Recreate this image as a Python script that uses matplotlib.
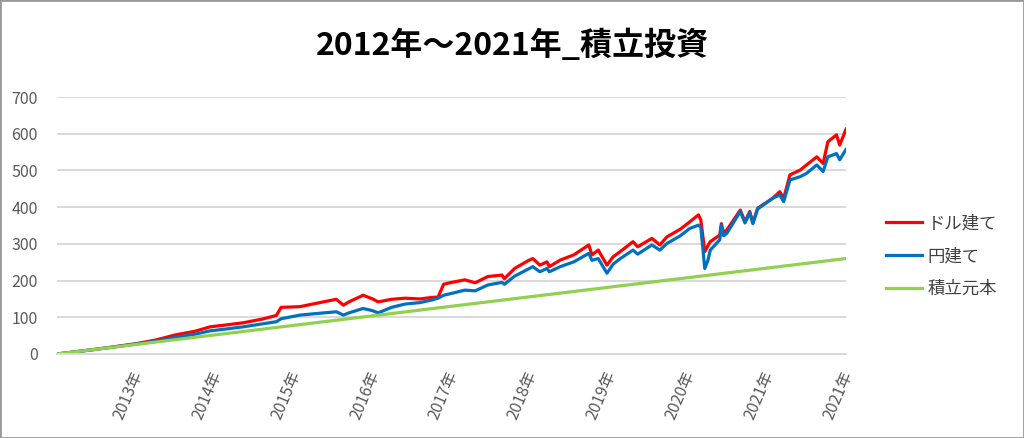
import matplotlib
matplotlib.use("Agg")
import matplotlib.pyplot as plt
from matplotlib.patches import Rectangle
from matplotlib.transforms import ScaledTranslation

plt.rcParams['font.family'] = ['Noto Sans CJK JP', 'DejaVu Sans']

# ---- data (years elapsed since Jan 2012) ----
t_years = [0.0, 0.5, 1.0, 1.25, 1.5, 1.75, 1.94, 2.1, 2.36, 2.6, 2.78, 2.84, 3.08, 3.33,
           3.54, 3.63, 3.7, 3.88, 4.0, 4.07, 4.24, 4.41, 4.6, 4.75, 4.83, 4.9, 5.0, 5.17,
           5.3, 5.46, 5.64, 5.67, 5.8, 5.97, 6.03, 6.12, 6.21, 6.24, 6.38, 6.55, 6.74,
           6.78, 6.86, 6.97, 7.05, 7.14, 7.30, 7.36, 7.54, 7.64, 7.73, 7.90, 8.02, 8.13,
           8.16, 8.21, 8.25, 8.28, 8.40, 8.42, 8.45, 8.49, 8.66, 8.72, 8.78, 8.82, 8.88,
           9.07, 9.16, 9.21, 9.29, 9.42, 9.50, 9.63, 9.71, 9.77, 9.88, 9.92, 10.0]
usd_based = [0, 13, 28, 38, 52, 62, 74, 78, 85, 95, 105, 127, 129, 140,
             149, 133, 142, 160, 150, 142, 149, 152, 150, 154, 155, 190, 195, 202,
             194, 211, 215, 205, 233, 254, 260, 242, 251, 238, 256, 270, 297,
             270, 283, 242, 265, 279, 306, 292, 315, 297, 319, 340, 360, 379,
             365, 279, 295, 306, 324, 355, 330, 338, 392, 360, 388, 357, 397,
             424, 442, 424, 488, 501, 515, 537, 519, 578, 597, 569, 612]
jpy_based = [0, 13, 27, 35, 45, 54, 63, 67, 74, 82, 88, 96, 106, 111,
             115, 106, 112, 124, 118, 112, 127, 136, 140, 147, 152, 160, 165, 174,
             172, 188, 195, 190, 212, 231, 238, 224, 233, 224, 238, 251, 274,
             255, 260, 220, 245, 260, 283, 272, 297, 283, 301, 322, 342, 351,
             345, 233, 255, 283, 311, 350, 322, 329, 388, 357, 385, 355, 395,
             424, 433, 415, 474, 483, 492, 515, 497, 537, 546, 529, 557]
principal_t = [0.0, 10.0]
principal = [0, 260]

tick_pos = [1, 2, 3, 4, 5, 6, 7, 8, 9, 10]
tick_labels = ['2013年', '2014年', '2015年', '2016年', '2017年', '2018年',
               '2019年', '2020年', '2021年', '2021年']
series_names = ['ドル建て', '円建て', '積立元本']

fig = plt.figure(figsize=(10.24, 4.38), dpi=100)
ax = fig.add_axes([57/1024, (438-354)/438, (846-57)/1024, (354-97)/438])

ax.plot(t_years, usd_based, color='#FF0000', lw=2.3, label=series_names[0])
ax.plot(t_years, jpy_based, color='#0070C0', lw=2.3, label=series_names[1])
ax.plot(principal_t, principal, color='#92D050', lw=2.3, label=series_names[2])

ax.set_xlim(0, 10)
ax.set_ylim(0, 700)
ax.set_yticks(range(0, 701, 100))
ax.set_xticks(tick_pos)
ax.set_xticklabels(tick_labels, rotation=67, ha='right', va='top')
ax.tick_params(axis='x', length=0, pad=10, labelsize=11.5, labelcolor='#595959')
ax.tick_params(axis='y', length=0, pad=14, labelsize=11.5, labelcolor='#595959')
off = ScaledTranslation(10/100, 0, fig.dpi_scale_trans)
for lab in ax.get_xticklabels():
    lab.set_transform(lab.get_transform() + off)
ax.grid(axis='y', color='#d9d9d9', lw=1.4)
ax.set_axisbelow(True)
for s in ['top', 'right', 'left']:
    ax.spines[s].set_visible(False)
ax.spines['bottom'].set_color('#d9d9d9')
ax.spines['bottom'].set_linewidth(1.4)

fig.text(0.5, 0.895, '2012年～2021年_積立投資', ha='center', va='center',
         fontsize=23, fontweight='bold', color='black')

leg = fig.legend(loc='center left', bbox_to_anchor=(0.85, 0.415), frameon=False,
                 fontsize=12.5, handlelength=2.1, handletextpad=0.3,
                 labelspacing=0.85, labelcolor='#404040')

fig.patches.append(Rectangle((0, 0), 1, 1, transform=fig.transFigure, fill=False,
                             edgecolor='#999999', lw=2))

fig.savefig('out.png', dpi=100)
